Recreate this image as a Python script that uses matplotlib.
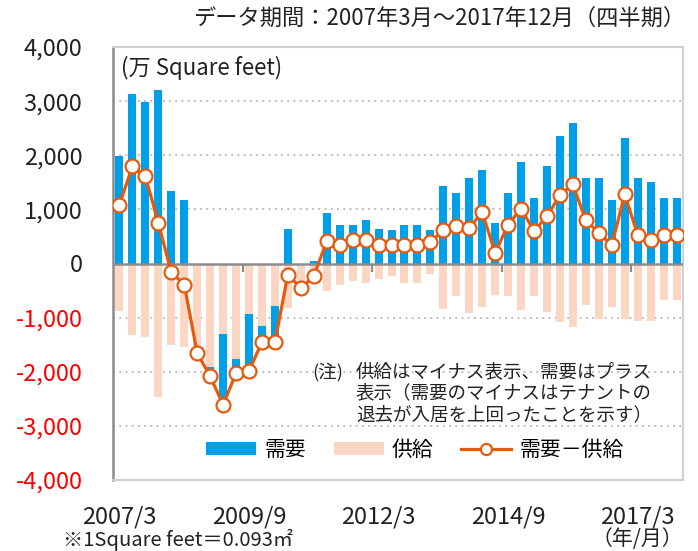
import matplotlib
matplotlib.use("Agg")
import matplotlib.pyplot as plt
from matplotlib.patches import Patch
from matplotlib.lines import Line2D
import numpy as np

plt.rcParams['font.family'] = ['Noto Sans CJK JP', 'DejaVu Sans']

# quarterly data 2007/3 .. 2017/12 (44 quarters), unit: 万 Square feet
demand = [1990, 3130, 2975, 3200, 1340, 1165, 0, -180, -1300, -260,
          -1040, -300, -670, 645, 0, 55, 935, 720, 720, 795,
          640, 610, 720, 720, 610, 1435, 1310, 1575, 1720, 750,
          1310, 1870, 1205, 1795, 2355, 2605, 1575, 1575, 1170, 2320,
          1575, 1500, 1205, 1205]
supply = [-870, -1315, -1350, -2460, -1500, -1535, -1655, -1905, -1310, -1770,
          -940, -1150, -780, -830, -460, -290, -500, -390, -315, -360,
          -280, -235, -360, -360, -200, -835, -605, -915, -800, -580,
          -605, -865, -605, -900, -1085, -1175, -760, -1020, -800, -1020,
          -1055, -1055, -680, -680]
net = [1090, 1795, 1610, 750, -165, -390, -1655, -2085, -2610, -2025,
       -1980, -1455, -1455, -205, -460, -235, 415, 350, 430, 430,
       350, 350, 350, 350, 395, 610, 690, 655, 950, 195,
       720, 1015, 600, 870, 1265, 1460, 795, 570, 340, 1275,
       535, 425, 535, 535]
tick_pos = [0, 10, 20, 30, 40]
tick_labels = ["2007/3", "2009/9", "2012/3", "2014/9", "2017/3"]
y_ticks = [4000, 3000, 2000, 1000, 0, -1000, -2000, -3000, -4000]

BLUE = "#00A0E9"
PEACH = "#FBD6C3"
ORANGE = "#E8590C"
GRID = "#BFBFBF"
AXIS = "#8C8C8C"
TXT = "#222222"

W, H = 698, 551
fig = plt.figure(figsize=(W / 100, H / 100), dpi=100)
L, R, T, B = 113, 683, 47, 480
ax = fig.add_axes([L / W, 1 - B / H, (R - L) / W, (B - T) / H])

x = np.arange(len(demand))
d = np.array(demand, dtype=float)
s = np.array(supply, dtype=float)
bottom_d = np.where(d < 0, s, 0)

ax.bar(x, s, width=0.62, color=PEACH, zorder=2)
ax.bar(x, d, width=0.62, bottom=bottom_d, color=BLUE, zorder=2)
ax.plot(x, net, color=ORANGE, lw=2.3, marker='o', markersize=10,
        markerfacecolor='white', markeredgecolor=ORANGE, markeredgewidth=1.6, zorder=4)

ax.set_xlim(-0.5, len(demand) - 0.5)
ax.set_ylim(-4000, 4000)

# grid
for yv in [3000, 2000, 1000, -1000, -2000, -3000]:
    ax.axhline(yv, color=GRID, lw=1.4, linestyle=(0, (1, 2.2)), zorder=1)
ax.axhline(0, color=AXIS, lw=1.8, zorder=3)
ax.vlines([9.5, 19.5, 29.5, 39.5], -160, 0, color=AXIS, lw=1.6, zorder=3)

for sp in ['top', 'right', 'bottom']:
    ax.spines[sp].set_color("#D0D0D0")
    ax.spines[sp].set_linewidth(1.5)
ax.spines['left'].set_color(AXIS)
ax.spines['left'].set_linewidth(1.8)

ax.set_yticks(y_ticks)
ax.set_yticklabels([f"{v:,}" for v in y_ticks])
for lab, v in zip(ax.get_yticklabels(), y_ticks):
    lab.set_color('#FF0000' if v < 0 else TXT)
ax.tick_params(axis='y', length=0, pad=22, labelsize=17)
ax.set_xticks(tick_pos)
ax.set_xticklabels(tick_labels)
ax.tick_params(axis='x', length=0, pad=18, labelsize=17, labelcolor=TXT)

# texts
fig.text(685 / W, 1 - 18 / H, "データ期間：2007年3月～2017年12月（四半期）",
         ha='right', va='center', fontsize=16, color=TXT)
ax.text(0.15, 3620, "(万 Square feet)", ha='left', va='center', fontsize=16, color=TXT)

fig.text(312 / W, 1 - 372 / H, "(注)", ha='left', va='center', fontsize=13.3, color=TXT)
note = ["供給はマイナス表示、需要はプラス",
        "表示（需要のマイナスはテナントの",
        "退去が入居を上回ったことを示す）"]
for i, t in enumerate(note):
    fig.text(356 / W, 1 - (372 + 21.5 * i) / H, t, ha='left', va='center',
             fontsize=13.3, color=TXT)

fig.text(683 / W, 1 - 539 / H, "（年/月）", ha='right', va='center', fontsize=15, color=TXT)
fig.text(63 / W, 1 - 540 / H, "※1Square feet＝0.093㎡", ha='left', va='center',
         fontsize=14.5, color=TXT)

handles = [Patch(facecolor=BLUE, edgecolor='none'),
           Patch(facecolor=PEACH, edgecolor='none'),
           Line2D([0], [0], color=ORANGE, lw=2.3, marker='o', markersize=8,
                  markerfacecolor='white', markeredgecolor=ORANGE, markeredgewidth=1.6)]
ax.legend(handles, ["需要", "供給", "需要－供給"], ncol=3, loc='center',
          bbox_to_anchor=((415 - L) / (R - L), (B - 450) / (B - T)),
          frameon=False, fontsize=15, handlelength=2.4, handleheight=0.6,
          handletextpad=0.4, columnspacing=1.3, numpoints=1)

fig.savefig("out.png", dpi=100)
